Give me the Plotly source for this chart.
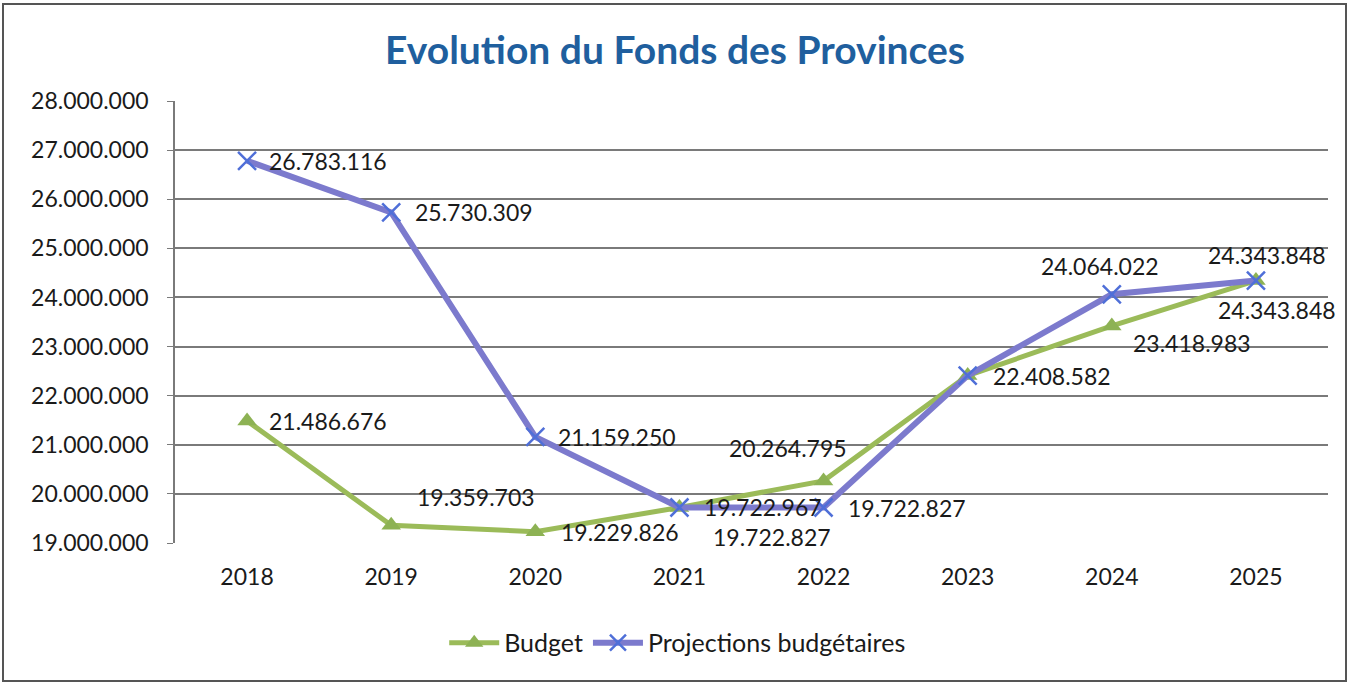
import plotly.graph_objects as go

# données
years = ["2018", "2019", "2020", "2021", "2022", "2023", "2024", "2025"]
budget = [21486676, 19359703, 19229826, 19722967, 20264795, 22408582, 23418983, 24343848]
projections = [26783116, 25730309, 21159250, 19722827, 19722827, 22408582, 24064022, 24343848]
y_ticks = [19000000, 20000000, 21000000, 22000000, 23000000, 24000000, 25000000, 26000000, 27000000, 28000000]

# décalage des étiquettes (px) : (dx, dy), None = pas d'étiquette
budget_offsets = [(81, 0), (85, -28), (85, 0), (84, 0), (-36, -33), (84, 0), (80, 17), (21, 29)]
proj_offsets = [(81, 0), (83, 0), (82, 0), (93, 29), (83, 0), None, (-12, -28), (11, -26)]


def fmt(v):
    return f"{v:,}".replace(",", ".")


FONT = "Lato"
GREEN = "#9bbb59"
PURPLE = "#7c7acd"

fig = go.Figure()

fig.add_trace(go.Scatter(
    x=years, y=budget, name="Budget", mode="lines+markers",
    line=dict(color=GREEN, width=5),
    marker=dict(symbol="triangle-up", size=17, color="#8db254"),
))
fig.add_trace(go.Scatter(
    x=years, y=projections, name="Projections budgétaires", mode="lines+markers",
    line=dict(color=PURPLE, width=6),
    marker=dict(symbol="x-thin", size=18, line=dict(color="#4f6fd8", width=2.5)),
))

# étiquettes de données (x = indice de catégorie)
annotations = []
for vals, offs in [(budget, budget_offsets), (projections, proj_offsets)]:
    for i, (v, o) in enumerate(zip(vals, offs)):
        if o is None:
            continue
        annotations.append(dict(
            x=i, y=v, xref="x", yref="y", text=fmt(v), showarrow=False,
            xshift=o[0], yshift=-o[1], xanchor="center", yanchor="middle",
            font=dict(family=FONT, size=23, color="#1a1a1a"),
        ))

fig.update_layout(
    width=1350, height=684,
    paper_bgcolor="white", plot_bgcolor="white",
    margin=dict(l=175, r=22, t=101, b=141),
    title=dict(text="<b>Evolution du Fonds des Provinces</b>", x=0.5, xanchor="center",
               y=0.927, yanchor="middle",
               font=dict(family=FONT, size=39, color="#1f5f9e")),
    showlegend=True,
    legend=dict(orientation="h", x=0.436, xanchor="center", y=-0.226, yanchor="middle",
                font=dict(family=FONT, size=25, color="#1a1a1a"), itemwidth=50),
    annotations=annotations,
    shapes=[dict(type="rect", xref="paper", yref="paper",
                 x0=(3 - 175) / 1153, x1=(1346 - 175) / 1153,
                 y0=(543 - 681) / 442, y1=(543 - 4) / 442,
                 line=dict(color="#555555", width=2))],
)

fig.update_xaxes(
    type="category", range=[-0.5, 7.5], showgrid=False, showline=False,
    ticks="", ticklabelstandoff=18,
    tickfont=dict(family=FONT, size=23, color="#1a1a1a"),
)
fig.update_yaxes(
    range=[19000000, 28000000], tickvals=y_ticks, ticktext=[fmt(t) for t in y_ticks],
    showgrid=True, gridcolor="#7a7a7a", gridwidth=1.5,
    showline=True, linecolor="#7a7a7a", linewidth=1.5,
    ticks="outside", ticklen=6, tickcolor="#7a7a7a", ticklabelstandoff=14,
    tickfont=dict(family=FONT, size=23, color="#1a1a1a"),
    zeroline=False,
)

fig.write_html("out.html", config={"displayModeBar": False},
               post_script="document.body.style.margin='0';")
